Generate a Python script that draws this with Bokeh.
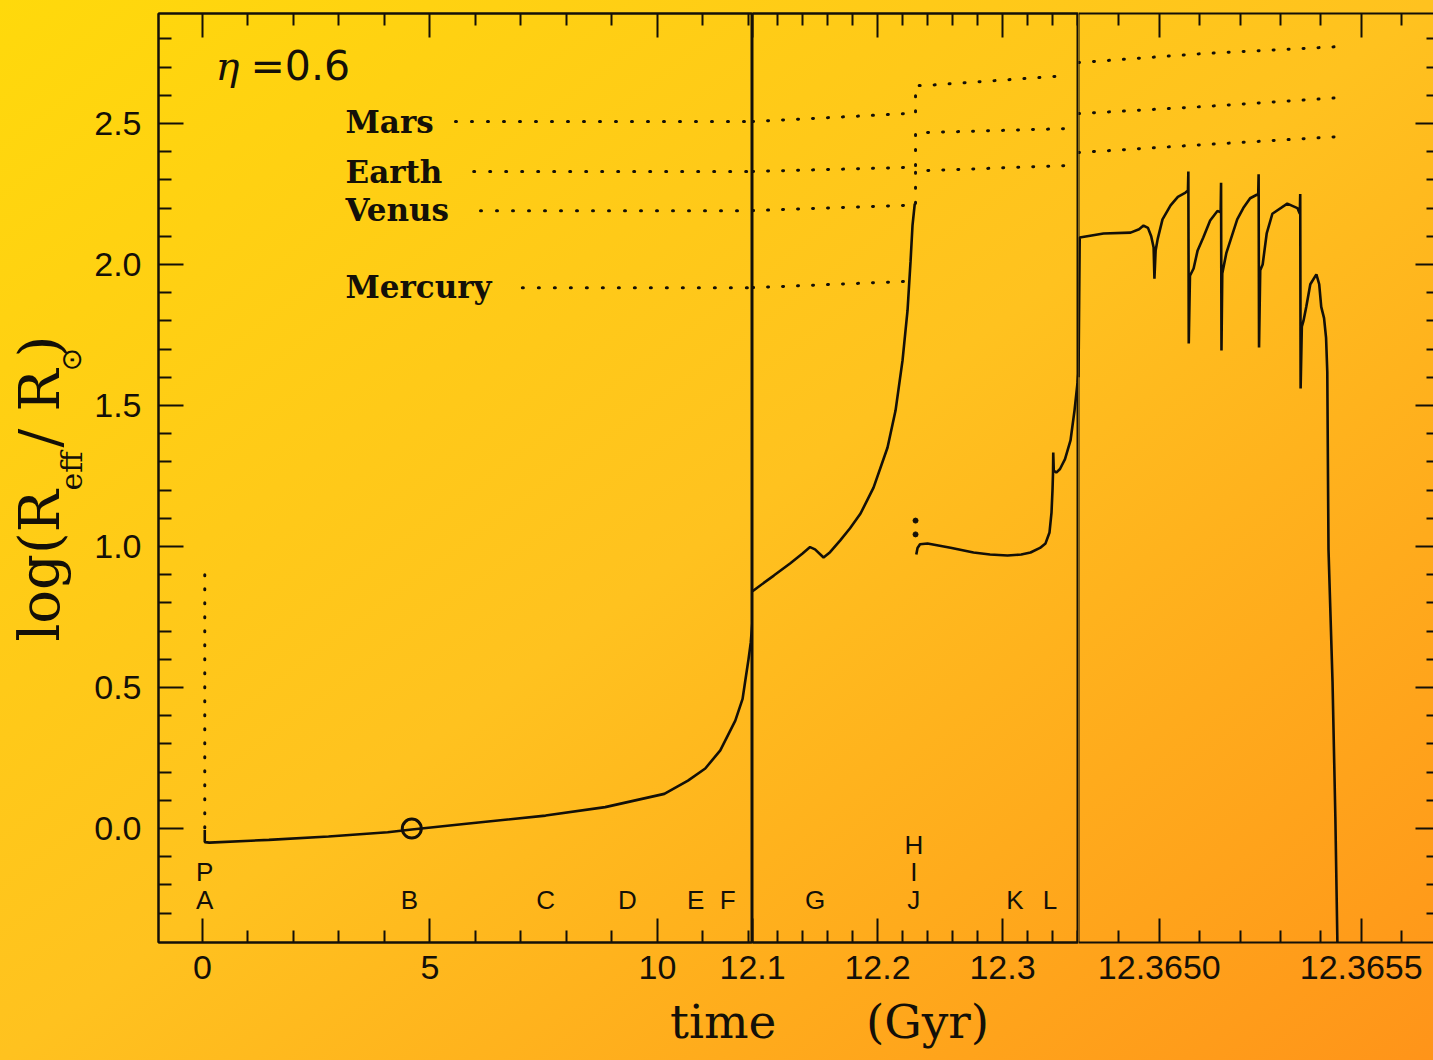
import math
from bokeh.plotting import figure
from bokeh.layouts import row, column
from bokeh.models import (LinearAxis, FixedTicker, Range1d, Label, Span, Div,
                          CustomJSTickFormatter)
from bokeh.core.properties import value
from bokeh.embed import file_html
from bokeh.resources import INLINE

# ---------------- data ----------------
# pre-main-sequence (dotted) at ZAMS
pms_t = [0.05, 0.05]
pms_y = [0.90, -0.005]

# main sequence (panel 1, time in Gyr)
ms_t = [0.05, 0.05, 0.15, 1.46, 2.77, 4.07, 4.55, 5.80, 7.54, 8.85, 10.15,
        10.67, 11.05, 11.38, 11.71, 11.87, 11.93, 12.00, 12.05, 12.09]
ms_y = [-0.005, -0.048, -0.050, -0.040, -0.028, -0.013, -0.004, 0.017, 0.046,
        0.076, 0.123, 0.170, 0.213, 0.277, 0.383, 0.460, 0.525, 0.600, 0.660, 0.740]

# present Sun
sun_now_t = [4.6]
sun_now_y = [0.0]

# red giant branch (panel 2)
rgb_t = [12.1, 12.117, 12.130, 12.140, 12.146, 12.150, 12.1568, 12.162, 12.170,
         12.178, 12.1864, 12.1968, 12.208, 12.2144, 12.220, 12.224, 12.2264,
         12.228, 12.2298]
rgb_y = [0.842, 0.897, 0.940, 0.975, 0.998, 0.990, 0.961, 0.980, 1.021, 1.065,
         1.117, 1.209, 1.351, 1.482, 1.660, 1.837, 2.010, 2.140, 2.216]

# helium flash
flash_t = [12.2304, 12.2304]
flash_y = [1.092, 1.043]

# horizontal branch / early AGB (panel 2)
hb_t = [12.2310, 12.2320, 12.2340, 12.2400, 12.2584, 12.2768, 12.2900, 12.3040,
        12.3150, 12.3224, 12.3300, 12.3344, 12.3376, 12.3392, 12.3400, 12.3404,
        12.3406, 12.3410, 12.3430, 12.3460, 12.3500, 12.3544, 12.3576, 12.3600,
        12.3608]
hb_y = [0.972, 0.995, 1.008, 1.011, 0.996, 0.979, 0.972, 0.968, 0.972, 0.979,
        0.995, 1.011, 1.050, 1.120, 1.200, 1.260, 1.333, 1.270, 1.262, 1.275,
        1.310, 1.376, 1.482, 1.580, 1.620]

# thermally pulsing AGB (panel 3)
agb_t = [12.364800, 12.364803, 12.364862, 12.364929, 12.364950, 12.364961,
         12.364972, 12.364980, 12.364986, 12.364988, 12.364991, 12.364996,
         12.365008, 12.365028, 12.365046, 12.365065, 12.365071, 12.365072,
         12.365073, 12.365076, 12.365085, 12.365095, 12.365109, 12.365126,
         12.365144, 12.365152, 12.365153, 12.365154, 12.365156, 12.365166,
         12.365176, 12.365193, 12.365208, 12.365225, 12.365245, 12.365246,
         12.365247, 12.365250, 12.365256, 12.365266, 12.365280, 12.365317,
         12.365342, 12.365348, 12.365349, 12.365350, 12.365353, 12.365357,
         12.365364, 12.365374, 12.365389, 12.365396, 12.365401, 12.365408,
         12.365413, 12.365416, 12.365419, 12.365429, 12.365436, 12.365441,
         12.365443]
agb_y = [1.600, 2.096, 2.110, 2.113, 2.125, 2.138, 2.130, 2.100, 2.060, 1.950,
         2.050, 2.090, 2.160, 2.210, 2.240, 2.255, 2.262, 2.330, 1.720, 1.960,
         1.986, 2.050, 2.096, 2.156, 2.190, 2.185, 2.290, 1.695, 1.968, 2.040,
         2.085, 2.160, 2.200, 2.235, 2.250, 2.320, 1.706, 1.980, 2.000, 2.110,
         2.180, 2.216, 2.200, 2.180, 2.250, 1.560, 1.780, 1.800, 1.850, 1.930,
         1.965, 1.930, 1.850, 1.810, 1.740, 1.620, 0.990, 0.520, 0.040, -0.400,
         -0.500]

# planetary orbits, log(a / R_sun)
planet_names = ["Mercury", "Venus", "Earth", "Mars"]
orbit_start_t = [7.03, 6.11, 5.96, 5.56]
orbit_ms = [1.918, 2.191, 2.330, 2.507]
orbit_rgb_tip = [1.940, 2.210, 2.344, 2.535]
orbit_hb_start = [None, 2.333, 2.468, 2.635]
orbit_hb_end = [None, 2.351, 2.482, 2.670]
orbit_agb_start = [None, 2.397, 2.535, 2.716]
orbit_agb_mid = [None, 2.425, 2.560, 2.748]
orbit_agb_end = [None, 2.454, 2.592, 2.773]
orbit_t_seg2 = [12.1, 12.2232, 12.2304, 12.2392, 12.352]
orbit_t_seg3 = [12.3648, 12.36511, 12.36545]

# evolutionary phase letters
phase_letters1 = ["P", "A", "B", "C", "D", "E", "F"]
phase_t1 = [0.05, 0.05, 4.55, 7.54, 9.34, 10.84, 11.54]
phase_letters2 = ["H", "I", "J", "G", "K", "L"]
phase_t2 = [12.229, 12.229, 12.229, 12.150, 12.310, 12.338]

# axis ticks
x1_major = [0, 5, 10]
x1_minor = [1, 2, 3, 4, 6, 7, 8, 9, 11, 12]
x2_major = [12.1, 12.2, 12.3]
x2_minor = [12.12, 12.14, 12.16, 12.18, 12.22, 12.24, 12.26, 12.28, 12.32, 12.34, 12.36]
x3_major = [12.365, 12.3655]
x3_minor = [12.3649, 12.3651, 12.3652, 12.3653, 12.3654, 12.3656]
y_major = [0.0, 0.5, 1.0, 1.5, 2.0, 2.5]
y_minor = [-0.3, -0.2, -0.1, 0.1, 0.2, 0.3, 0.4, 0.6, 0.7, 0.8, 0.9, 1.1, 1.2,
           1.3, 1.4, 1.6, 1.7, 1.8, 1.9, 2.1, 2.2, 2.3, 2.4, 2.6, 2.7, 2.8]

# ---------------- styling / layout ----------------
INK = "#141008"
W, H = 1433, 1060
TOP, BOTTOM = 13, 118
Y_RANGE = (-0.404, 2.890)
TICK_FONT = "Liberation Sans"
BL = 0.37   # empirical: rendered alphabetic baseline sits this many em below anchor


def base_fig(width, xr, bl, br, margin=None):
    kw = dict(width=width, height=H, output_backend="svg", toolbar_location=None,
              x_axis_location=None, y_axis_location=None,
              x_range=Range1d(*xr), y_range=Range1d(*Y_RANGE),
              min_border_top=TOP, min_border_bottom=BOTTOM,
              min_border_left=bl, min_border_right=br,
              background_fill_alpha=0, border_fill_alpha=0,
              outline_line_color=INK, outline_line_width=2)
    if margin is not None:
        kw["margin"] = margin
    p = figure(**kw)
    p.xgrid.visible = False
    p.ygrid.visible = False
    return p


def style_axis(ax, tin, tmin, labels=True):
    ax.major_tick_in = tin
    ax.major_tick_out = 0
    ax.minor_tick_in = tmin
    ax.minor_tick_out = 0
    ax.axis_line_color = INK
    ax.axis_line_width = 2
    ax.major_tick_line_color = INK
    ax.minor_tick_line_color = INK
    ax.major_tick_line_width = 2
    ax.minor_tick_line_width = 2
    ax.major_label_text_font = TICK_FONT
    ax.major_label_text_font_size = "34px"
    ax.major_label_text_color = INK
    if not labels:
        ax.formatter = CustomJSTickFormatter(code="return ''")
        ax.major_label_standoff = 0


def add_x_axes(p, majors, minors, formatter=None):
    for loc in ("below", "above"):
        ax = LinearAxis(ticker=FixedTicker(ticks=majors, minor_ticks=minors))
        if formatter is not None:
            ax.formatter = formatter
        style_axis(ax, 24, 12, labels=(loc == "below"))
        if loc == "below":
            ax.major_label_standoff = 13
        p.add_layout(ax, loc)


def y_axis(tin, tmin, labels):
    ax = LinearAxis(ticker=FixedTicker(ticks=y_major, minor_ticks=y_minor),
                    formatter=CustomJSTickFormatter(code="return tick.toFixed(1)"))
    style_axis(ax, tin, tmin, labels=labels)
    if labels:
        ax.major_label_standoff = 17
    return ax


# pixel helpers for placing annotation texts (all frames share rows 13..942)
def tx1(px):
    return (px - 202) / 45.5


def ty(py):
    return (828 - py) / 282.0


# ---------- page-wide text layer (x in page pixels, rows aligned with panels) ----------
p0 = figure(width=W, height=H, output_backend="svg", toolbar_location=None,
            x_axis_location=None, y_axis_location=None,
            x_range=Range1d(0, W), y_range=Range1d(*Y_RANGE), min_border=0,
            background_fill_alpha=0, border_fill_alpha=0, outline_line_color=None)
p0.grid.visible = False

# y-axis title log(R_eff / R_sun), rotated, built from pieces
ylab = [("log(R", 60, 641, 56, "DejaVu Serif"),
        ("eff", 82, 490, 30, "DejaVu Serif"),
        ("/", 60, 447, 56, "DejaVu Serif"),
        ("R", 60, 411, 56, "DejaVu Serif"),
        ("⊙", 81, 371, 28, "DejaVu Sans"),
        (")", 60, 357, 56, "DejaVu Serif")]
for txt, bx, by, fs, fnt in ylab:
    p0.add_layout(Label(x=bx - BL * fs, y=ty(by), angle=math.pi / 2, text=txt,
                        text_font=fnt, text_font_size=f"{fs}px", text_color=INK,
                        text_align="left", text_baseline="alphabetic"))

# ---------- panel 1 ----------
p1 = base_fig(752, (-0.967, 12.088), 158, 0, margin=(0, 0, 0, -W))
add_x_axes(p1, x1_major, x1_minor)
p1.add_layout(y_axis(25, 13, True), "left")

p1.line(pms_t, pms_y, line_color=INK, line_width=3, line_dash="1 13", line_cap="round")
p1.line(ms_t, ms_y, line_color=INK, line_width=2.6)
p1.scatter(sun_now_t, sun_now_y, size=19, marker="circle", fill_alpha=0,
           line_color=INK, line_width=3)

for i, name in enumerate(planet_names):
    p1.line([orbit_start_t[i], 12.09], [orbit_ms[i], orbit_ms[i]], line_color=INK,
            line_width=3, line_dash="1 15", line_cap="round")

LET_FS = 26
row_y = {r: ty(b - BL * LET_FS) for r, b in ((0, 909), (1, 881), (2, 854))}
rows1 = [1, 0, 0, 0, 0, 0, 0]
p1.text(x=phase_t1, y=[row_y[r] for r in rows1], text=phase_letters1,
        text_font=value("Liberation Sans"), text_font_size=f"{LET_FS}px",
        text_color=INK, text_align="center", text_baseline="alphabetic")

# planet labels
PL_FS = 31
label_base = {"Mars": 133, "Earth": 183, "Venus": 221, "Mercury": 298}
for name in planet_names:
    p1.add_layout(Label(x=tx1(345), y=ty(label_base[name] - BL * PL_FS), text=name,
                        text_font="DejaVu Serif", text_font_style="bold",
                        text_font_size=f"{PL_FS}px", text_color=INK,
                        text_baseline="alphabetic"))

# eta label
p1.add_layout(Label(x=tx1(215), y=ty(80 - BL * 40), text="η", text_font="DejaVu Serif",
                    text_font_style="italic", text_font_size="40px", text_color=INK,
                    text_baseline="alphabetic"))
p1.add_layout(Label(x=tx1(250), y=ty(80 - BL * 40), text="=0.6", text_font="DejaVu Sans",
                    text_font_size="41px", text_color=INK, text_baseline="alphabetic"))

# ---------- panel 2 ----------
B2 = 140
p2 = base_fig(326 + B2, (12.09995, 12.3608), B2, 0, margin=(0, 0, 0, -B2))
add_x_axes(p2, x2_major, x2_minor,
           CustomJSTickFormatter(code="return tick.toFixed(1)"))

p2.line(rgb_t, rgb_y, line_color=INK, line_width=2.6)
p2.scatter(flash_t, flash_y, size=5, marker="circle", fill_color=INK, line_color=INK)
p2.line(hb_t, hb_y, line_color=INK, line_width=2.6)

for i, name in enumerate(planet_names):
    if orbit_hb_start[i] is None:
        ts = [orbit_t_seg2[0], orbit_t_seg2[1]]
        ys = [orbit_ms[i], orbit_rgb_tip[i]]
    else:
        ts = [orbit_t_seg2[0], orbit_t_seg2[1], orbit_t_seg2[2], orbit_t_seg2[2],
              orbit_t_seg2[3], orbit_t_seg2[4]]
        ys = [orbit_ms[i], orbit_rgb_tip[i], orbit_rgb_tip[i], orbit_hb_start[i],
              orbit_hb_start[i], orbit_hb_end[i]]
    p2.line(ts, ys, line_color=INK, line_width=3, line_dash="1 14", line_cap="round")

rows2 = [2, 1, 0, 0, 0, 0]
p2.text(x=phase_t2, y=[row_y[r] for r in rows2], text=phase_letters2,
        text_font=value("Liberation Sans"), text_font_size=f"{LET_FS}px",
        text_color=INK, text_align="center", text_baseline="alphabetic")

# ---------- panel 3 ----------
B3 = 10
p3 = base_fig(355 + B3, (12.3648, 12.365679), B3, 0, margin=(0, 0, 0, -B3))
p3.outline_line_color = None
add_x_axes(p3, x3_major, x3_minor,
           CustomJSTickFormatter(code="return tick.toFixed(4)"))
rax = y_axis(18, 7, False)
rax.axis_line_color = None
p3.add_layout(rax, "right")
p3.add_layout(Span(location=12.3648, dimension="height", line_color=INK, line_width=2))

p3.line(agb_t, agb_y, line_color=INK, line_width=2.6)
for i, name in enumerate(planet_names):
    if orbit_agb_start[i] is None:
        continue
    p3.line(orbit_t_seg3, [orbit_agb_start[i], orbit_agb_mid[i], orbit_agb_end[i]],
            line_color=INK, line_width=3, line_dash="1 14", line_cap="round")

# ---------- x-axis title (below the panels) ----------
XT_TOP = 994   # page pixel row where the title's line box starts
xtitle = Div(text="time" + "&nbsp;" * 6 + "(Gyr)", width=420, height=H - XT_TOP,
             margin=(XT_TOP - H, 0, 0, 670),
             styles={"font-family": "DejaVu Serif", "font-size": "47px",
                     "color": INK, "line-height": "normal", "white-space": "nowrap"})

panels = row(p0, p1, p2, p3)
layout = column(panels, xtitle, styles={
    "background": "linear-gradient(to bottom right, #ffd90b 0%, #ffc21f 50%, #ff9419 100%)"})

open("out.html", "w").write(file_html(layout, INLINE))
